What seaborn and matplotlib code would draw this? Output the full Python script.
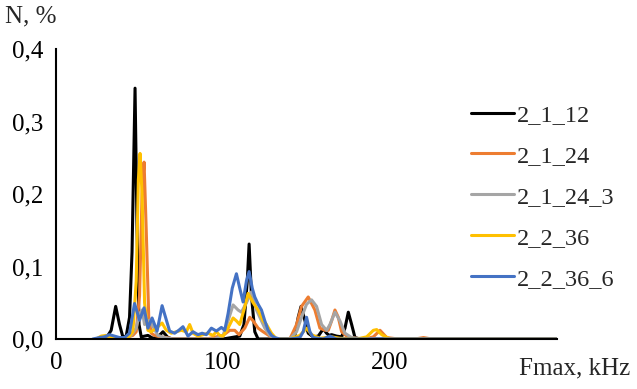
import pandas as pd
import matplotlib
matplotlib.use("Agg")
import matplotlib.pyplot as plt
import seaborn as sns

# frequency (kHz) / share (%), one pair of lists per series
f_2_1_12 = [24, 30, 33, 35.7, 38, 40, 42, 44, 45.5, 47.3, 48.5, 49.7, 51, 55, 58, 61, 64, 67, 70,
            100, 110, 112.5, 114.5, 115.6, 117, 119, 121, 140, 143, 145, 146.7, 148.5, 151, 154,
            157, 160, 162, 163.5, 165, 168, 171, 173, 175, 177, 179, 182, 300]
n_2_1_12 = [0, 0.001, 0.012, 0.045, 0.02, 0.003, 0.004, 0.03, 0.12, 0.346, 0.15, 0.02, 0.003, 0.005,
            0.001, 0.003, 0.01, 0.002, 0, 0, 0.004, 0.02, 0.08, 0.131, 0.06, 0.01, 0, 0, 0.005, 0.03,
            0.045, 0.03, 0.008, 0.003, 0.004, 0.014, 0.008, 0.005, 0.006, 0.004, 0.003, 0.015,
            0.037, 0.02, 0.002, 0, 0]

f_2_1_24 = [24, 35, 42, 46, 48, 50, 51.5, 52.7, 54, 55.5, 57, 59, 62, 66, 70, 90, 100, 104, 107,
            109.5, 113, 116, 118, 121, 124, 128, 132, 140, 144, 147, 151, 155, 158, 161, 163, 165,
            167, 169, 171, 175, 185, 190, 194, 198, 205, 215, 220, 225, 300]
n_2_1_24 = [0, 0, 0.002, 0.005, 0.01, 0.06, 0.2, 0.244, 0.15, 0.03, 0.008, 0.005, 0.003, 0.002, 0,
            0, 0.005, 0.012, 0.012, 0.006, 0.015, 0.03, 0.025, 0.015, 0.01, 0.004, 0, 0, 0.02,
            0.045, 0.058, 0.04, 0.015, 0.012, 0.012, 0.025, 0.04, 0.03, 0.01, 0.002, 0, 0.003,
            0.012, 0.002, 0, 0, 0.002, 0, 0]

f_2_1_24_3 = [24, 35, 42, 45, 48, 50, 51.5, 53, 56, 58.5, 61, 65, 70, 80, 95, 100, 103, 106, 109,
              111, 114, 117, 120, 122, 125, 128, 132, 140, 144, 147, 150, 153, 156, 159, 162, 164,
              167, 170, 173, 177, 182, 300]
n_2_1_24_3 = [0, 0, 0.002, 0.005, 0.015, 0.035, 0.04, 0.02, 0.026, 0.015, 0.005, 0.002, 0, 0, 0,
              0.005, 0.025, 0.047, 0.04, 0.037, 0.05, 0.065, 0.04, 0.03, 0.015, 0.005, 0, 0, 0.01,
              0.03, 0.048, 0.054, 0.045, 0.02, 0.012, 0.02, 0.037, 0.025, 0.008, 0.002, 0, 0]

f_2_2_36 = [24, 27, 30, 33, 36, 40, 44, 46, 48, 49.3, 50.3, 51.5, 53, 55, 57, 60, 63.5, 66, 69, 72,
            75, 78, 80, 82, 85, 88, 91, 94, 96, 98, 100, 103, 106, 108, 110, 112.5, 115, 118, 121,
            124, 126, 129, 132, 140, 146, 150, 153, 158, 165, 170, 180, 186, 190, 192, 195, 200, 300]
n_2_2_36 = [0, 0.004, 0.005, 0.002, 0.001, 0.001, 0.004, 0.01, 0.08, 0.22, 0.256, 0.2, 0.05, 0.012,
            0.01, 0.015, 0.022, 0.012, 0.008, 0.01, 0.012, 0.01, 0.02, 0.008, 0.004, 0.006, 0.008,
            0.005, 0.01, 0.005, 0.004, 0.015, 0.029, 0.025, 0.02, 0.04, 0.063, 0.05, 0.04, 0.025,
            0.02, 0.008, 0, 0, 0.005, 0.015, 0.006, 0.001, 0.003, 0.001, 0, 0.003, 0.012, 0.013,
            0.006, 0, 0]

f_2_2_36_6 = [22, 26, 29, 32, 35, 38, 41, 44, 47, 50, 52.7, 55, 57.5, 60.5, 63.5, 68, 71, 73.5, 76,
              79, 82, 85, 87.5, 90, 93, 96, 99, 101, 103, 105.5, 108, 110, 112, 114, 115.6, 117.5,
              119, 121, 123, 125, 127, 129, 131, 134, 140, 146, 148, 150, 152, 154, 160, 164, 168, 300]
n_2_2_36_6 = [0, 0.002, 0.003, 0.006, 0.004, 0.002, 0.002, 0.008, 0.049, 0.026, 0.043, 0.015, 0.029,
              0.011, 0.046, 0.011, 0.008, 0.012, 0.017, 0.004, 0.01, 0.006, 0.008, 0.006, 0.015,
              0.011, 0.016, 0.012, 0.035, 0.07, 0.09, 0.07, 0.051, 0.08, 0.093, 0.07, 0.058, 0.048,
              0.04, 0.025, 0.012, 0.005, 0.002, 0, 0, 0.002, 0.01, 0.03, 0.01, 0.002, 0, 0.004, 0, 0]

series = {
    "2_1_12": (f_2_1_12, n_2_1_12),
    "2_1_24": (f_2_1_24, n_2_1_24),
    "2_1_24_3": (f_2_1_24_3, n_2_1_24_3),
    "2_2_36": (f_2_2_36, n_2_2_36),
    "2_2_36_6": (f_2_2_36_6, n_2_2_36_6),
}
colors = ["#000000", "#ED7D31", "#A5A5A5", "#FFC000", "#4472C4"]

df = pd.concat([pd.DataFrame({"f": f, "N": n, "series": name}) for name, (f, n) in series.items()],
               ignore_index=True)

sns.set_style("white")
plt.rcParams["font.family"] = ["Liberation Serif", "DejaVu Serif"]

fig = plt.figure(figsize=(6.37, 3.89), dpi=100)
ax = fig.add_axes([0.088, 0.1285, 0.7865, 0.7455])

sns.lineplot(data=df, x="f", y="N", hue="series", palette=colors, estimator=None, sort=False,
             linewidth=2.2, ax=ax)

ax.set_xlim(0, 300)
ax.set_ylim(0, 0.4)
ax.set_xticks([0, 100, 200, 300])
ax.set_xticklabels(["0", "100", "200", ""])
ax.set_yticks([0, 0.1, 0.2, 0.3, 0.4])
ax.set_yticklabels(["0,0", "0,1", "0,2", "0,3", "0,4"])
ax.tick_params(axis="both", direction="inout", length=10, width=1.5, labelsize=18, colors="black",
               pad=4)
ax.set_xlabel("")
ax.set_ylabel("")
for side in ["top", "right"]:
    ax.spines[side].set_visible(False)
for side in ["left", "bottom"]:
    ax.spines[side].set_color("black")
    ax.spines[side].set_linewidth(1.5)

fig.text(0.008, 0.985, "N, %", fontsize=18, ha="left", va="top")
fig.text(0.99, 0.052, "Fmax, kHz", fontsize=18, ha="right", va="center")

ax.legend(loc="upper left", bbox_to_anchor=(471 / 637, 1 - 104 / 389), bbox_transform=fig.transFigure,
          frameon=False, fontsize=17.5, handlelength=1.75, handletextpad=0.15, labelspacing=0.78,
          borderpad=0, borderaxespad=0)

fig.savefig("out.png", dpi=100)
